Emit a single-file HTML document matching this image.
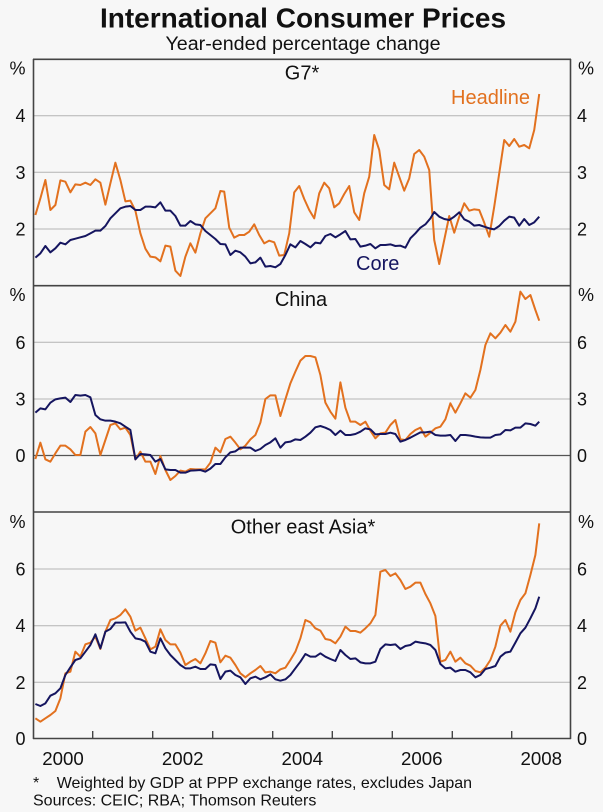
<!DOCTYPE html>
<html><head><meta charset="utf-8"><style>
html,body{margin:0;padding:0;background:#f7f7f7;}
svg{display:block;}
text{font-family:"Liberation Sans",Arial,sans-serif;fill:#111;}
.g{stroke:#b4b4b4;stroke-width:1;}
.d{stroke:#444;stroke-width:1.6;}
.o{fill:none;stroke:#e2711f;stroke-width:2;stroke-linejoin:round;vector-effect:non-scaling-stroke;}
.n{fill:none;stroke:#15155f;stroke-width:2;stroke-linejoin:round;vector-effect:non-scaling-stroke;}
.yl{font-size:18px;}
</style></head><body>
<svg width="603" height="812" viewBox="0 0 603 812" xmlns="http://www.w3.org/2000/svg">
<rect width="603" height="812" fill="#f7f7f7"/>
<text x="303" y="27.5" font-size="28" font-weight="bold" text-anchor="middle">International Consumer Prices</text>
<text x="303" y="50" font-size="19.7" text-anchor="middle">Year-ended percentage change</text>

<!-- gridlines -->
<line class="g" x1="33" y1="115.7" x2="571" y2="115.7"/>
<line class="g" x1="33" y1="172.3" x2="571" y2="172.3"/>
<line class="g" x1="33" y1="229" x2="571" y2="229"/>
<line class="g" x1="33" y1="342.3" x2="571" y2="342.3"/>
<line class="g" x1="33" y1="399" x2="571" y2="399"/>
<line x1="33" y1="455.5" x2="571" y2="455.5" stroke="#555" stroke-width="1.2"/>
<line class="g" x1="33" y1="569" x2="571" y2="569"/>
<line class="g" x1="33" y1="625.7" x2="571" y2="625.7"/>
<line class="g" x1="33" y1="682.3" x2="571" y2="682.3"/>

<!-- data panel 1 -->
<g transform="translate(0,0) scale(0.384615,0.333333)">
<polyline class="o" points="92,645 105,595 118,540 131,630 144,615 157,541 170,545 183,577 196,553 209,555 222,548 235,555 248,538 261,548 274,614 287,550 300,488 313,540 326,604 339,602 352,632 365,700 378,746 391,770 404,772 417,784 430,737 443,740 456,812 469,828 482,770 495,730 508,758 521,700 534,655 547,640 560,625 573,573 583,575 596,683 609,713 622,705 635,705 648,695 661,673 674,705 687,730 700,722 713,727 726,767 739,765 752,700 765,577 778,558 791,597 804,630 817,655 830,580 843,548 856,565 869,622 882,610 895,582 908,558 921,637 934,660 947,580 960,530 973,405 986,450 999,555 1012,568 1025,488 1038,530 1051,572 1064,535 1077,462 1090,450 1103,470 1116,510 1129,720 1142,792 1155,720 1168,648 1181,698 1194,650 1207,610 1220,632 1233,628 1246,630 1259,668 1272,710 1285,620 1298,520 1311,420 1324,438 1337,417 1350,440 1363,435 1376,445 1389,390 1402,282"/>
<polyline class="n" points="92,773 105,760 118,738 131,757 144,745 157,728 170,733 183,720 196,716 209,712 222,708 235,700 248,692 261,692 274,678 287,655 300,640 313,625 326,620 339,618 352,630 365,630 378,620 391,620 404,622 417,607 430,632 443,632 456,648 469,677 482,677 495,663 508,673 521,675 534,693 547,705 560,717 573,732 586,733 599,765 612,752 625,757 638,770 651,790 664,787 677,773 690,800 703,798 716,802 729,792 742,765 755,733 768,742 781,723 794,732 807,742 820,728 833,730 846,708 859,702 872,712 885,703 898,693 911,718 924,717 937,740 950,737 963,732 976,745 989,735 1002,735 1015,733 1028,738 1041,737 1054,743 1067,715 1080,700 1093,683 1106,673 1119,655 1129,636 1142,650 1155,657 1168,660 1181,650 1194,637 1207,658 1220,665 1233,677 1246,675 1259,680 1272,685 1285,688 1298,678 1311,662 1324,650 1337,653 1350,677 1363,657 1376,675 1389,667 1402,650"/>
</g>

<!-- data panel 2 -->
<g transform="translate(0,280) scale(0.384615,0.333333)">
<polyline class="o" points="92,537 105,488 118,538 131,545 144,520 157,497 170,497 183,508 196,525 209,525 222,455 235,441 248,460 261,525 274,480 287,435 300,430 313,448 326,443 339,465 352,538 365,515 378,545 391,545 404,582 417,528 430,570 443,600 456,588 469,572 482,575 495,567 508,568 521,568 534,568 547,548 560,503 573,517 586,477 599,470 612,488 625,508 638,497 651,478 664,465 677,428 690,357 703,346 716,346 729,408 742,358 755,310 768,275 781,242 794,228 807,228 820,232 833,285 846,368 859,395 872,416 885,307 898,383 911,425 924,425 937,435 950,425 963,452 976,475 989,460 1002,458 1015,435 1028,420 1041,478 1054,480 1067,462 1080,450 1093,443 1106,470 1119,458 1132,445 1145,440 1158,418 1171,370 1184,398 1197,370 1210,340 1223,353 1236,330 1249,270 1262,195 1275,160 1288,175 1301,158 1314,135 1327,155 1340,125 1353,35 1366,57 1379,45 1392,90 1402,122"/>
<polyline class="n" points="92,398 105,385 118,388 131,368 144,358 157,355 170,353 183,366 196,345 209,347 222,345 235,352 248,405 261,418 274,422 287,422 300,425 313,430 326,440 339,450 352,538 365,522 378,523 391,525 404,545 417,537 430,568 443,570 456,570 469,578 482,578 495,572 508,571 521,570 534,575 547,566 560,552 573,552 586,532 599,517 612,514 625,503 638,503 651,503 664,513 677,507 690,495 703,487 716,475 729,503 742,487 755,485 768,478 781,480 794,470 807,458 820,442 833,438 846,443 859,450 872,465 885,452 898,465 911,465 924,462 937,455 950,445 963,448 976,463 989,462 1002,462 1015,458 1028,462 1041,485 1054,480 1067,473 1080,465 1093,457 1106,457 1119,455 1132,465 1145,467 1158,467 1171,465 1184,483 1197,465 1210,465 1223,467 1236,470 1249,472 1262,473 1275,473 1288,465 1301,463 1314,450 1327,451 1340,443 1353,443 1366,430 1379,432 1392,437 1402,425"/>
</g>

<!-- data panel 3 -->
<g transform="translate(0,505) scale(0.384615,0.333333)">
<polyline class="o" points="92,640 105,650 118,640 131,630 144,618 157,580 170,505 183,500 196,440 209,455 222,418 235,413 248,395 261,432 274,380 287,345 300,340 313,330 326,313 339,335 352,377 365,368 378,400 391,433 404,425 417,373 430,405 443,418 456,418 469,443 482,480 495,470 508,462 521,475 534,445 547,408 560,413 573,472 586,452 599,458 612,480 625,505 638,517 651,505 664,495 677,483 690,502 703,500 716,505 729,493 742,488 755,465 768,440 781,400 794,345 807,352 820,370 833,377 846,402 859,405 872,415 885,395 898,365 911,378 924,378 937,383 950,370 963,355 976,330 989,200 1002,195 1015,213 1028,205 1041,225 1054,252 1067,245 1080,233 1093,233 1106,267 1119,295 1132,333 1145,470 1158,465 1171,440 1184,470 1197,458 1210,475 1223,482 1236,498 1249,502 1262,488 1275,465 1288,425 1301,362 1314,345 1327,380 1340,322 1353,285 1366,265 1379,210 1392,150 1402,55"/>
<polyline class="n" points="92,597 105,603 118,595 131,572 144,565 157,550 170,510 183,487 196,465 209,460 222,440 235,420 248,388 261,430 274,380 287,372 300,353 313,353 326,352 339,380 352,400 365,403 378,410 391,440 404,445 417,400 430,430 443,450 456,465 469,480 482,490 495,490 508,485 521,492 534,492 547,478 560,480 573,522 586,500 599,497 612,510 625,517 638,537 651,520 664,515 677,523 690,517 703,508 716,523 729,527 742,523 755,510 768,490 781,470 794,447 807,455 820,455 833,445 846,455 859,462 872,468 885,435 898,450 911,462 924,460 937,472 950,475 963,475 976,470 989,432 1002,418 1015,420 1028,418 1041,432 1054,423 1067,420 1080,410 1093,413 1106,415 1119,420 1132,435 1145,477 1158,490 1171,488 1184,500 1197,495 1210,495 1223,502 1236,517 1249,510 1262,492 1275,488 1288,483 1301,455 1314,443 1327,440 1340,413 1353,385 1366,368 1379,340 1392,310 1402,275"/>
</g>

<!-- frame -->
<line class="d" x1="33.5" y1="59" x2="33.5" y2="739"/>
<line class="d" x1="570.5" y1="59" x2="570.5" y2="739"/>
<line class="d" x1="33" y1="59.3" x2="571" y2="59.3"/>
<line class="d" x1="33" y1="285.7" x2="571" y2="285.7"/>
<line class="d" x1="33" y1="512" x2="571" y2="512"/>
<line class="d" x1="33" y1="738.5" x2="571" y2="738.5"/>
<!-- ticks -->
<g stroke="#444" stroke-width="1.4">
<line x1="92.7" y1="731" x2="92.7" y2="738"/>
<line x1="152.7" y1="731" x2="152.7" y2="738"/>
<line x1="212.7" y1="731" x2="212.7" y2="738"/>
<line x1="272.7" y1="731" x2="272.7" y2="738"/>
<line x1="332.3" y1="731" x2="332.3" y2="738"/>
<line x1="392.3" y1="731" x2="392.3" y2="738"/>
<line x1="452.3" y1="731" x2="452.3" y2="738"/>
<line x1="511.7" y1="731" x2="511.7" y2="738"/>
</g>

<!-- panel titles -->
<text x="302" y="79.3" font-size="20" text-anchor="middle">G7*</text>
<text x="301" y="306" font-size="20" text-anchor="middle">China</text>
<text x="303" y="533.3" font-size="20" text-anchor="middle">Other east Asia*</text>
<text x="451" y="104" font-size="20" fill="#e2711f" style="fill:#e2711f">Headline</text>
<text x="356" y="270" font-size="20" style="fill:#15155f">Core</text>

<!-- y labels left -->
<g class="yl" text-anchor="end">
<text x="25.5" y="74.5">%</text>
<text x="25.5" y="122.2">4</text>
<text x="25.5" y="178.8">3</text>
<text x="25.5" y="235.5">2</text>
<text x="25.5" y="301">%</text>
<text x="25.5" y="348.8">6</text>
<text x="25.5" y="405.5">3</text>
<text x="25.5" y="462">0</text>
<text x="25.5" y="528">%</text>
<text x="25.5" y="575.5">6</text>
<text x="25.5" y="632.2">4</text>
<text x="25.5" y="688.8">2</text>
<text x="25.5" y="745">0</text>
</g>
<g class="yl" text-anchor="start">
<text x="578" y="74.5">%</text>
<text x="577" y="122.2">4</text>
<text x="577" y="178.8">3</text>
<text x="577" y="235.5">2</text>
<text x="578" y="301">%</text>
<text x="577" y="348.8">6</text>
<text x="577" y="405.5">3</text>
<text x="577" y="462">0</text>
<text x="578" y="528">%</text>
<text x="577" y="575.5">6</text>
<text x="577" y="632.2">4</text>
<text x="577" y="688.8">2</text>
<text x="577" y="745">0</text>
</g>

<!-- x labels -->
<g font-size="18.7" text-anchor="middle">
<text x="63" y="765">2000</text>
<text x="182.7" y="765">2002</text>
<text x="302.3" y="765">2004</text>
<text x="421.8" y="765">2006</text>
<text x="541.3" y="765">2008</text>
</g>

<!-- footnotes -->
<text x="33" y="788" font-size="16">*</text>
<text x="56.7" y="788" font-size="16">Weighted by GDP at PPP exchange rates, excludes Japan</text>
<text x="33" y="805.5" font-size="16">Sources: CEIC; RBA; Thomson Reuters</text>
</svg>
</body></html>
